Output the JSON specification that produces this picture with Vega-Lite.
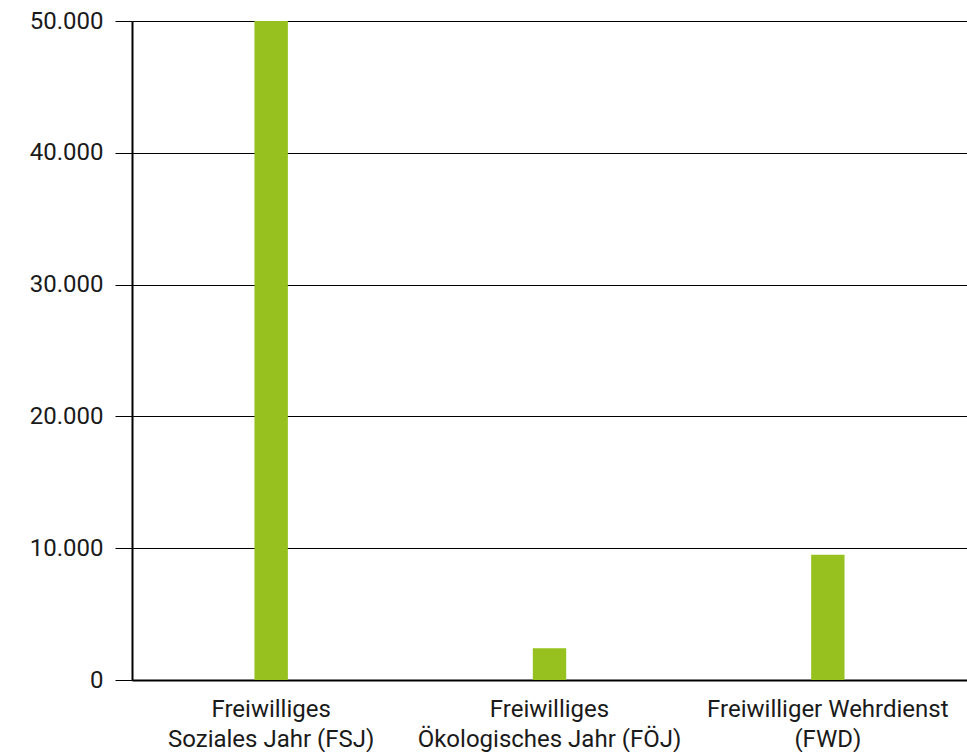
{
  "$schema": "https://vega.github.io/schema/vega-lite/v6.json",
  "width": 835,
  "height": 659,
  "autosize": {"type": "none"},
  "padding": {"left": 132, "top": 21, "right": 0, "bottom": 72},
  "background": "white",
  "data": {
    "values": [
      {"dienst": "Freiwilliges|Soziales Jahr (FSJ)", "teilnehmende": 50000},
      {"dienst": "Freiwilliges|Ökologisches Jahr (FÖJ)", "teilnehmende": 2400},
      {"dienst": "Freiwilliger Wehrdienst|(FWD)", "teilnehmende": 9500}
    ]
  },
  "mark": {"type": "bar", "color": "#96c11f"},
  "encoding": {
    "x": {
      "field": "dienst",
      "type": "nominal",
      "sort": null,
      "title": null,
      "scale": {"paddingInner": 0.88, "paddingOuter": 0.44},
      "axis": {
        "labelAngle": 0,
        "labelExpr": "split(datum.label, '|')",
        "labelFont": "Roboto",
        "labelFontSize": 24,
        "labelLineHeight": 30,
        "labelLimit": 400,
        "labelColor": "#1a1a1a",
        "labelPadding": 17,
        "ticks": false,
        "domainColor": "black",
        "domainWidth": 2,
        "grid": false
      }
    },
    "y": {
      "field": "teilnehmende",
      "type": "quantitative",
      "title": null,
      "scale": {"domain": [0, 50000], "nice": false},
      "axis": {
        "values": [0, 10000, 20000, 30000, 40000, 50000],
        "labelExpr": "replace(format(datum.value, ','), ',', '.')",
        "labelFont": "Roboto",
        "labelFontSize": 24,
        "labelColor": "#1a1a1a",
        "labelPadding": 12,
        "tickSize": 17,
        "tickColor": "black",
        "tickWidth": 1,
        "domainColor": "black",
        "domainWidth": 2,
        "grid": true,
        "gridColor": "black",
        "gridWidth": 1,
        "gridOpacity": 1
      }
    }
  },
  "config": {"view": {"stroke": null}}
}
